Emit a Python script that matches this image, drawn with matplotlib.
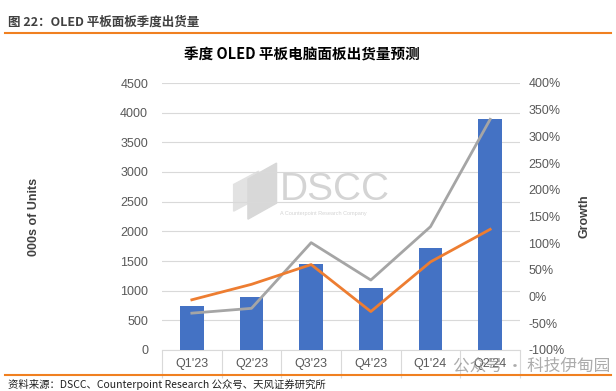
import matplotlib.pyplot as plt
from matplotlib.ticker import FuncFormatter, FixedLocator
from matplotlib.patches import Polygon

# data
quarters = ["Q1'23", "Q2'23", "Q3'23", "Q4'23", "Q1'24", "Q2'24"]
units = [735, 900, 1450, 1045, 1720, 3900]          # 000s of units
growth_orange = [-6, 23, 60, -28, 65, 126]           # %
growth_gray = [-31, -22, 101, 31, 131, 332]          # %

cjk = ['Noto Sans CJK SC', 'DejaVu Sans']
lat = ['Liberation Sans', 'Noto Sans CJK SC']

fig = plt.figure(figsize=(6.16, 3.91), dpi=100)

# header, rules and source
fig.text(0.013, 1 - 22 / 391, "图 22：OLED 平板面板季度出货量", family=cjk,
         fontsize=9, fontweight='bold', color='#404040', va='center')
fig.add_artist(plt.Line2D([0.008, 0.992], [1 - 33 / 391] * 2, color='#F08020', lw=1.5))
fig.add_artist(plt.Line2D([0.008, 0.992], [1 - 375 / 391] * 2, color='#F08020', lw=1.5))
fig.text(0.013, 1 - 384 / 391, "资料来源：DSCC、Counterpoint Research 公众号、天风证券研究所",
         family=cjk, fontsize=7.5, color='#202020', va='center')
fig.text(0.49, 1 - 55 / 391, "季度 OLED 平板电脑面板出货量预测", family=cjk,
         fontsize=10.5, fontweight='bold', color='#000000', ha='center', va='center')

ax = fig.add_axes([162 / 616, 1 - 350 / 391, (520 - 162) / 616, (350 - 83) / 391])
x = list(range(len(quarters)))
ax.bar(x, units, width=0.4, color='#4472C4', zorder=3)
ax.set_xlim(-0.5, len(quarters) - 0.5)
ax.set_ylim(0, 4500)
ax.set_yticks(range(0, 4501, 500))
ax.grid(axis='y', color='#D9D9D9', lw=0.8, zorder=0)
for s in ['top', 'left', 'right']:
    ax.spines[s].set_visible(False)
ax.spines['bottom'].set_color('#D9D9D9')
ax.tick_params(axis='y', length=0, labelsize=9, labelcolor='#595959', pad=10)
ax.set_xticks(x)
ax.set_xticklabels(quarters)
ax.tick_params(axis='x', length=0, labelsize=9, labelcolor='#595959', pad=6)
ax.xaxis.set_minor_locator(FixedLocator([i - 0.5 for i in range(len(quarters) + 1)]))
ax.tick_params(axis='x', which='minor', direction='out', length=20, color='#D9D9D9', width=0.8)
for lab in ax.get_xticklabels() + ax.get_yticklabels():
    lab.set_family(lat)
ax.set_ylabel("000s of Units", family=lat, fontsize=9, fontweight='bold',
              color='#404040', labelpad=58)

ax2 = ax.twinx()
ax2.plot(x, growth_gray, color='#A5A5A5', lw=2, zorder=4)
ax2.plot(x, growth_orange, color='#ED7D31', lw=2, zorder=5)
ax2.set_ylim(-100, 400)
ax2.set_yticks(range(-100, 401, 50))
ax2.yaxis.set_major_formatter(FuncFormatter(lambda v, p: f"{int(v)}%"))
for s in ['top', 'left', 'right', 'bottom']:
    ax2.spines[s].set_visible(False)
ax2.tick_params(axis='y', length=0, labelsize=9, labelcolor='#595959', pad=6)
for lab in ax2.get_yticklabels():
    lab.set_family(lat)
ax2.set_ylabel("Growth", family=lat, fontsize=9, fontweight='bold',
               color='#404040', labelpad=10)

# DSCC watermark with a simple logo
ax.text(0.33, 0.6, "DSCC", transform=ax.transAxes, fontsize=28, color='#D4D4D4',
        family=lat, ha='left', va='center', zorder=1)
ax.text(0.33, 0.51, "A Counterpoint Research Company", transform=ax.transAxes,
        fontsize=4, color='#D4D4D4', family=lat, ha='left', va='center', zorder=1)
ax.add_patch(Polygon([[0.20, 0.52], [0.27, 0.57], [0.27, 0.67], [0.20, 0.62]],
                     closed=True, transform=ax.transAxes, color='#E2E2E2', zorder=1))
ax.add_patch(Polygon([[0.24, 0.49], [0.32, 0.55], [0.32, 0.70], [0.24, 0.64]],
                     closed=True, transform=ax.transAxes, color='#D8D8D8', zorder=1))
fig.text(0.99, 1 - 366 / 391, "公众号 · 科技伊甸园", family=cjk, fontsize=12,
         color='#909090', alpha=0.75, ha='right', va='center')

fig.savefig("out.png", dpi=100)
